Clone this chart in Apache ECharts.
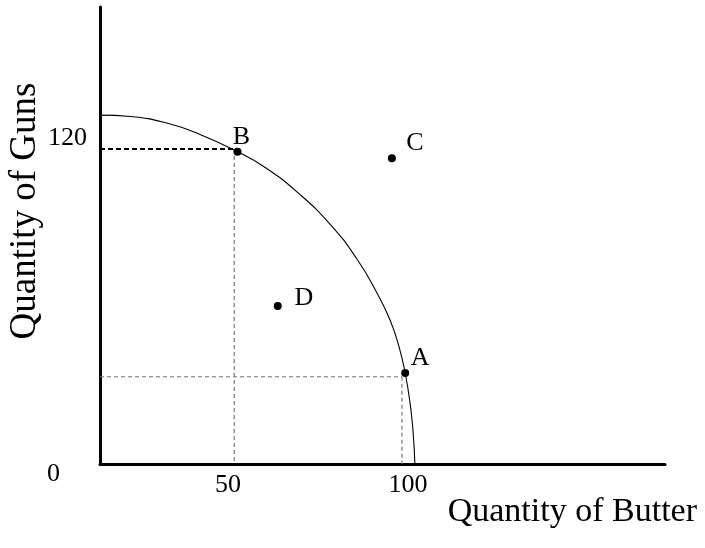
<!DOCTYPE html>
<html>
<head>
<meta charset="utf-8">
<script src="https://cdn.jsdelivr.net/npm/echarts@6/dist/echarts.min.js"></script>
<style>
html,body{margin:0;padding:0;background:#fff;}
#chart{width:705px;height:548px;}
</style>
</head>
<body>
<div id="chart"></div>
<script>
// ---- data ----
var xTickValues = [50, 100];
var yTickValues = [120];
var originLabel = '0';
var xTitle = 'Quantity of Butter';
var yTitle = 'Quantity of Guns';

var xRange = [14.4, 171.4];
var yRange = [3.6, 166.8];

// production possibilities frontier
var ppfCurve = [
  [14.4, 128.2], [22.8, 127.7], [33.9, 125.0], [42.2, 121.3],
  [52.5, 115.2], [60.3, 109.5], [69.2, 100.7], [78.3, 89.3],
  [85.8, 76.8], [91.4, 64.6], [95.0, 55.0], [97.5, 45.4],
  [99.2, 36.1], [100.6, 25.0], [101.4, 15.0], [101.9, 3.6]
];

var pointNames = ['A', 'B', 'C', 'D'];
var pointX = [99.2, 52.6, 95.5, 63.8];
var pointY = [36.1, 115.1, 112.8, 60.0];

// dashed guide lines (corner values)
var guideB = [51.7, 116.1];
var guideA = [98.3, 34.75];

// ---- styles ----
var FONT = "'Liberation Serif','Times New Roman',serif";
var labelOffsets = { A: [15, -15], B: [4, -15], C: [23, -15], D: [26, -8] };

var scatterData = pointNames.map(function (n, i) {
  return {
    name: n,
    value: [pointX[i], pointY[i]],
    label: { offset: labelOffsets[n] }
  };
});

function seg(a, b) { return [a, b]; }

var chart = echarts.init(document.getElementById('chart'), null, { renderer: 'canvas' });
chart.setOption({
  animation: false,
  backgroundColor: '#fff',
  grid: { left: 100, right: 40, top: 7, bottom: 84 },
  xAxis: {
    type: 'value', min: xRange[0], max: xRange[1],
    axisLine: { show: true, lineStyle: { color: '#000', width: 3 } },
    axisTick: { show: false },
    splitLine: { show: false },
    axisLabel: {
      customValues: xTickValues, margin: 8,
      color: '#000', fontFamily: FONT, fontSize: 26
    }
  },
  yAxis: {
    type: 'value', min: yRange[0], max: yRange[1],
    axisLine: { show: true, lineStyle: { color: '#000', width: 3 } },
    axisTick: { show: false },
    splitLine: { show: false },
    axisLabel: {
      customValues: yTickValues, margin: 13,
      color: '#000', fontFamily: FONT, fontSize: 26
    }
  },
  series: [
    {
      type: 'line', data: ppfCurve, smooth: 0.5,
      showSymbol: false, lineStyle: { color: '#000', width: 1.1 }, z: 3
    },
    {
      type: 'line', data: seg([xRange[0], guideB[1]], [guideB[0] + 0.9, guideB[1]]),
      showSymbol: false, lineStyle: { color: '#000', width: 2, type: [5, 3] }, z: 2
    },
    {
      type: 'line', data: seg([guideB[0], guideB[1]], [guideB[0], yRange[0]]),
      showSymbol: false, lineStyle: { color: '#777', width: 1.2, type: [4, 3] }, z: 2
    },
    {
      type: 'line', data: seg([xRange[0], guideA[1]], [guideA[0], guideA[1]]),
      showSymbol: false, lineStyle: { color: '#777', width: 1.2, type: [4, 3] }, z: 2
    },
    {
      type: 'line', data: seg([guideA[0], guideA[1]], [guideA[0], yRange[0]]),
      showSymbol: false, lineStyle: { color: '#777', width: 1.2, type: [4, 3] }, z: 2
    },
    {
      type: 'scatter', data: scatterData, symbol: 'circle', symbolSize: 8,
      itemStyle: { color: '#000', opacity: 1 }, z: 5,
      label: {
        show: true, position: 'inside', formatter: '{b}', opacity: 1,
        color: '#000', fontFamily: FONT, fontSize: 26
      }
    }
  ],
  graphic: [
    {
      type: 'text', x: 53.5, y: 474,
      style: { text: originLabel, font: '26px ' + FONT, fill: '#000', textAlign: 'center', textVerticalAlign: 'middle' }
    },
    {
      type: 'text', x: 697, y: 512,
      style: { text: xTitle, font: '34px ' + FONT, fill: '#000', textAlign: 'right', textVerticalAlign: 'middle' }
    },
    {
      type: 'text', x: 25, y: 211, rotation: Math.PI / 2,
      style: { text: yTitle, font: '37px ' + FONT, fill: '#000', textAlign: 'center', textVerticalAlign: 'middle' }
    }
  ]
});
</script>
</body>
</html>
